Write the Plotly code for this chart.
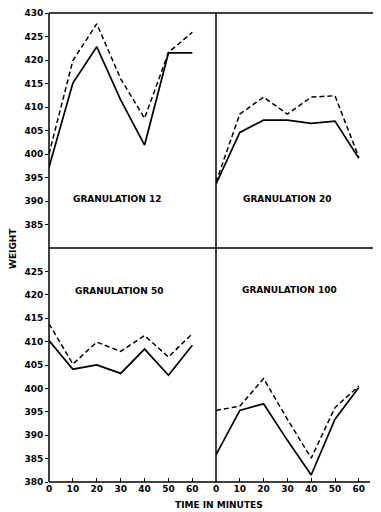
import plotly.graph_objects as go

minutes = [0, 10, 20, 30, 40, 50, 60]

g12_solid = [397.2, 415.1, 422.8, 411.5, 401.9, 421.5, 421.5]
g12_dashed = [400.0, 419.9, 427.7, 416.0, 407.6, 421.6, 425.9]

g20_solid = [393.6, 404.6, 407.2, 407.2, 406.5, 407.0, 399.1]
g20_dashed = [394.0, 408.5, 412.1, 408.5, 412.1, 412.4, 399.3]

g50_solid = [410.2, 404.1, 405.0, 403.2, 408.4, 402.8, 409.2]
g50_dashed = [413.8, 405.2, 409.9, 407.9, 411.3, 406.7, 411.7]

g100_solid = [385.8, 395.3, 396.7, 388.9, 381.5, 393.4, 400.2]
g100_dashed = [395.3, 396.2, 402.1, 393.4, 385.1, 395.9, 400.5]

panel_titles = ["GRANULATION 12", "GRANULATION 20", "GRANULATION 50", "GRANULATION 100"]
top_ticks = [385, 390, 395, 400, 405, 410, 415, 420, 425, 430]
bottom_ticks = [380, 385, 390, 395, 400, 405, 410, 415, 420, 425]
x_ticks = [0, 10, 20, 30, 40, 50, 60]

# page body has an 8px margin; the figure is placed at (8, 8) in the window
OFF = 8
W, H = 381 - OFF, 512 - OFF
def px(x):
    return (x - OFF) / W
def py(y):
    return (H - (y - OFF)) / H

FONT = "DejaVu Sans"
TICKFONT = dict(size=9, family=FONT, weight="bold", color="black")
fig = go.Figure()

panels = [
    ("x", "y", g12_solid, g12_dashed),
    ("x2", "y2", g20_solid, g20_dashed),
    ("x3", "y3", g50_solid, g50_dashed),
    ("x4", "y4", g100_solid, g100_dashed),
]
for xa, ya, s, d in panels:
    fig.add_trace(go.Scatter(x=minutes, y=d, mode="lines", xaxis=xa, yaxis=ya,
                             line=dict(color="black", width=1.5, dash="5px,3px"), showlegend=False))
    fig.add_trace(go.Scatter(x=minutes, y=s, mode="lines", xaxis=xa, yaxis=ya,
                             line=dict(color="black", width=1.7), showlegend=False))

left_dom = [px(49), px(216)]
right_dom = [px(216), 1.0]
top_dom = [py(248), py(13)]
bot_dom = [py(482), py(248)]

right_span = (381 - 216) / 2.38

common_x = dict(showgrid=False, zeroline=False, showline=False, automargin=False)
common_y = dict(showgrid=False, zeroline=False, showline=False, range=[380, 430], automargin=False)

fig.update_layout(
    template="none",
    width=W, height=H, margin=dict(l=0, r=0, t=0, b=0, pad=0), autosize=False,
    paper_bgcolor="white", plot_bgcolor="white",
    font=dict(family=FONT, color="black", size=9),
    xaxis=dict(domain=left_dom, range=[0, 69.9], anchor="y", showticklabels=False, ticks="", **common_x),
    xaxis2=dict(domain=right_dom, range=[0, right_span], anchor="y2", showticklabels=False, ticks="", **common_x),
    xaxis3=dict(domain=left_dom, range=[0, 69.9], anchor="y3", tickvals=x_ticks,
                ticks="inside", ticklen=4, tickwidth=1.2, tickcolor="black", tickfont=TICKFONT, **common_x),
    xaxis4=dict(domain=right_dom, range=[0, right_span], anchor="y4", tickvals=x_ticks,
                ticks="inside", ticklen=4, tickwidth=1.2, tickcolor="black", tickfont=TICKFONT, **common_x),
    yaxis=dict(domain=top_dom, anchor="x", tickvals=top_ticks, ticks="outside", ticklen=3, tickwidth=1.2,
               tickcolor="black", tickfont=TICKFONT, **common_y),
    yaxis2=dict(domain=top_dom, anchor="x2", showticklabels=False, ticks="", **common_y),
    yaxis3=dict(domain=bot_dom, anchor="x3", tickvals=bottom_ticks, ticks="outside", ticklen=3, tickwidth=1.2,
                tickcolor="black", tickfont=TICKFONT, **common_y),
    yaxis4=dict(domain=bot_dom, anchor="x4", showticklabels=False, ticks="", **common_y),
)

# frame lines
line = dict(color="black", width=1.5)
shapes = [
    dict(type="line", xref="paper", yref="paper", x0=px(49), x1=1.0, y0=py(13), y1=py(13), line=line),
    dict(type="line", xref="paper", yref="paper", x0=px(49), x1=1.0, y0=py(248), y1=py(248), line=line),
    dict(type="line", xref="paper", yref="paper", x0=px(49), x1=px(370), y0=py(482), y1=py(482), line=line),
    dict(type="line", xref="paper", yref="paper", x0=px(49), x1=px(49), y0=py(13), y1=py(482), line=line),
    dict(type="line", xref="paper", yref="paper", x0=px(216), x1=px(216), y0=py(13), y1=py(482), line=line),
]
fig.update_layout(shapes=shapes)

title_pos = [("x", "y", 28.5, 390.4), ("x2", "y2", 29.8, 390.4),
             ("x3", "y3", 29.3, 420.8), ("x4", "y4", 30.7, 421.0)]
for (xa, ya, xx, yy), t in zip(title_pos, panel_titles):
    fig.add_annotation(x=xx, y=yy, xref=xa, yref=ya, text=t, showarrow=False,
                       xanchor="center", yanchor="middle",
                       font=dict(size=9, family=FONT, weight="bold"))

fig.add_annotation(x=px(13), y=py(249), xref="paper", yref="paper", text="WEIGHT",
                   textangle=-90, showarrow=False, xanchor="center", yanchor="middle",
                   font=dict(size=9, family=FONT, weight="bold"))
fig.add_annotation(x=px(219), y=py(505), xref="paper", yref="paper", text="TIME IN MINUTES",
                   showarrow=False, xanchor="center", yanchor="middle",
                   font=dict(size=9, family=FONT, weight="bold"))

fig.write_html("out.html")
